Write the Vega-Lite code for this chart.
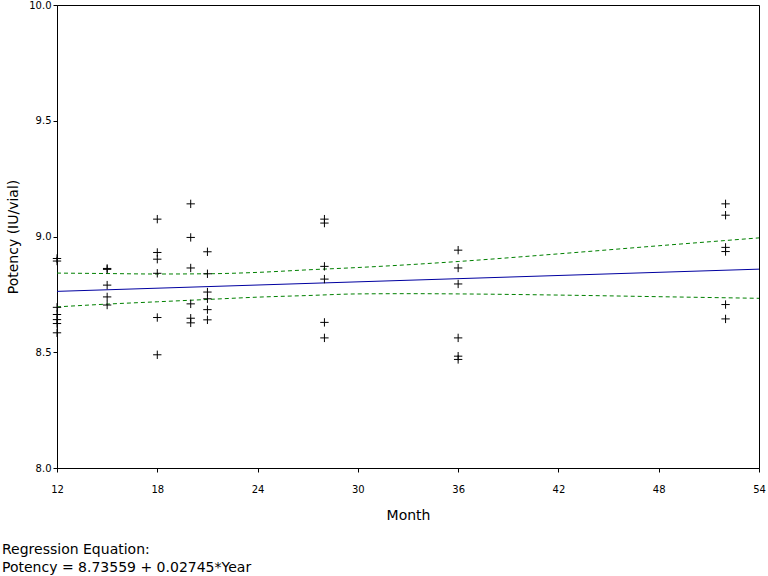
{
  "$schema": "https://vega.github.io/schema/vega-lite/v6.json",
  "width": 702,
  "height": 463,
  "autosize": {"type": "none"},
  "padding": {"left": 57, "top": 5, "right": 9, "bottom": 108},
  "background": "white",
  "config": {
    "view": {"stroke": "black", "strokeWidth": 1},
    "font": "DejaVu Sans",
    "axis": {
      "domainColor": "black", "tickColor": "black", "labelColor": "black", "titleColor": "black",
      "labelFont": "DejaVu Sans", "titleFont": "DejaVu Sans",
      "labelFontSize": 10, "titleFontSize": 14, "titleFontWeight": "normal",
      "grid": false, "tickSize": 4, "labelFlush": false
    }
  },
  "title": {
    "text": ["Regression Equation:", "Potency = 8.73559 + 0.02745*Year"],
    "orient": "bottom", "anchor": "start", "frame": "group",
    "dx": -55, "offset": 21,
    "fontSize": 14, "fontWeight": "normal", "font": "DejaVu Sans", "color": "black", "lineHeight": 18
  },
  "datasets": {
    "pts": [
      {"month": 12, "potency": 8.905}, {"month": 12, "potency": 8.894},
      {"month": 12, "potency": 8.694}, {"month": 12, "potency": 8.663}, {"month": 12, "potency": 8.641},
      {"month": 12, "potency": 8.624}, {"month": 12, "potency": 8.584},
      {"month": 15, "potency": 8.862}, {"month": 15, "potency": 8.858}, {"month": 15, "potency": 8.790},
      {"month": 15, "potency": 8.739}, {"month": 15, "potency": 8.704},
      {"month": 18, "potency": 9.075}, {"month": 18, "potency": 8.931}, {"month": 18, "potency": 8.902},
      {"month": 18, "potency": 8.841}, {"month": 18, "potency": 8.650}, {"month": 18, "potency": 8.489},
      {"month": 20, "potency": 9.141}, {"month": 20, "potency": 8.996}, {"month": 20, "potency": 8.864},
      {"month": 20, "potency": 8.709}, {"month": 20, "potency": 8.647}, {"month": 20, "potency": 8.627},
      {"month": 21, "potency": 8.934}, {"month": 21, "potency": 8.839}, {"month": 21, "potency": 8.760},
      {"month": 21, "potency": 8.731}, {"month": 21, "potency": 8.684}, {"month": 21, "potency": 8.640},
      {"month": 28, "potency": 9.075}, {"month": 28, "potency": 9.058}, {"month": 28, "potency": 8.871},
      {"month": 28, "potency": 8.816}, {"month": 28, "potency": 8.629}, {"month": 28, "potency": 8.562},
      {"month": 36, "potency": 8.941}, {"month": 36, "potency": 8.864}, {"month": 36, "potency": 8.795},
      {"month": 36, "potency": 8.562}, {"month": 36, "potency": 8.483}, {"month": 36, "potency": 8.469},
      {"month": 52, "potency": 9.141}, {"month": 52, "potency": 9.092}, {"month": 52, "potency": 8.953},
      {"month": 52, "potency": 8.935}, {"month": 52, "potency": 8.706}, {"month": 52, "potency": 8.644}
    ],
    "fit": [
      {"month": 12, "potency": 8.763}, {"month": 54, "potency": 8.859}
    ],
    "band": [
      {"month": 12, "potency": 8.842, "series": "upper"}, {"month": 15, "potency": 8.840, "series": "upper"},
      {"month": 18, "potency": 8.838, "series": "upper"}, {"month": 21, "potency": 8.839, "series": "upper"},
      {"month": 24, "potency": 8.845, "series": "upper"}, {"month": 27, "potency": 8.856, "series": "upper"},
      {"month": 30, "potency": 8.866, "series": "upper"}, {"month": 33, "potency": 8.878, "series": "upper"},
      {"month": 36, "potency": 8.892, "series": "upper"}, {"month": 42, "potency": 8.925, "series": "upper"},
      {"month": 48, "potency": 8.960, "series": "upper"}, {"month": 54, "potency": 8.994, "series": "upper"},
      {"month": 12, "potency": 8.696, "series": "lower"}, {"month": 15, "potency": 8.708, "series": "lower"},
      {"month": 18, "potency": 8.718, "series": "lower"}, {"month": 21, "potency": 8.728, "series": "lower"},
      {"month": 24, "potency": 8.738, "series": "lower"}, {"month": 27, "potency": 8.745, "series": "lower"},
      {"month": 30, "potency": 8.752, "series": "lower"}, {"month": 33, "potency": 8.753, "series": "lower"},
      {"month": 36, "potency": 8.752, "series": "lower"}, {"month": 42, "potency": 8.747, "series": "lower"},
      {"month": 48, "potency": 8.740, "series": "lower"}, {"month": 54, "potency": 8.733, "series": "lower"}
    ]
  },
  "encoding": {
    "x": {
      "field": "month", "type": "quantitative",
      "scale": {"domain": [12, 54], "nice": false, "zero": false},
      "axis": {"values": [12, 18, 24, 30, 36, 42, 48, 54], "title": "Month", "titlePadding": 14, "labelPadding": 12}
    },
    "y": {
      "field": "potency", "type": "quantitative",
      "scale": {"domain": [8, 10], "nice": false, "zero": false},
      "axis": {"values": [8, 8.5, 9, 9.5, 10], "format": ".1f", "title": "Potency (IU/vial)", "titlePadding": 8, "labelPadding": 2}
    }
  },
  "layer": [
    {
      "data": {"name": "band"},
      "mark": {"type": "line", "color": "#008000", "strokeWidth": 1, "strokeDash": [4, 3], "interpolate": "monotone"},
      "encoding": {"detail": {"field": "series", "type": "nominal"}}
    },
    {
      "data": {"name": "fit"},
      "mark": {"type": "line", "color": "#0000a0", "strokeWidth": 1}
    },
    {
      "data": {"name": "pts"},
      "mark": {"type": "point", "shape": "M-1,0H1M0,-1V1", "filled": false, "stroke": "black", "strokeWidth": 1, "size": 70, "opacity": 1}
    }
  ]
}
